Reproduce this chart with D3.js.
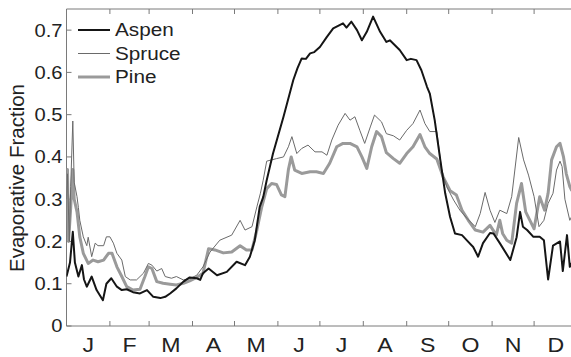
<!DOCTYPE html>
<html>
<head>
<meta charset="utf-8">
<script src="https://cdn.jsdelivr.net/npm/d3@7"></script>
<style>
  body { margin: 0; background: #fff; }
  svg { display: block; }
  text { font-family: 'Liberation Sans', Arial, sans-serif; fill: #222; }
</style>
</head>
<body>
<div id="chart"></div>
<script>
// month labels and boundaries (day of year)
let months = ['J','F','M','A','M','J','J','A','S','O','N','D'];
let monthStarts = [0,31,59,90,120,151,181,212,243,273,304,334,365];
let yTicks = [0,0.1,0.2,0.3,0.4,0.5,0.6,0.7];

// [day of year, evaporative fraction]
let aspen = [[0,0.117],[1,0.13],[2.5,0.15],[4.5,0.223],[6,0.15],[8.5,0.117],[11,0.144],[12.5,0.11],
  [14.5,0.093],[18,0.117],[21.5,0.085],[26,0.061],[28.5,0.10],[32,0.113],[36,0.093],[39.5,0.085],
  [43,0.087],[47.5,0.08],[52.5,0.077],[57.5,0.085],[62,0.069],[67,0.066],[70.5,0.069],[74,0.077],
  [78.5,0.089],[83.5,0.105],[88,0.115],[93,0.113],[95.5,0.109],[97.5,0.125],[101.5,0.136],[107.5,0.12],
  [114.5,0.128],[121.5,0.152],[127.5,0.144],[131,0.164],[134.5,0.203],[138,0.282],[140.5,0.305],
  [143,0.345],[147.5,0.408],[155,0.495],[162,0.582],[165,0.61],[168,0.633],[171,0.632],[174,0.645],
  [177,0.648],[181,0.66],[186,0.684],[190.5,0.704],[194,0.71],[197.5,0.716],[200,0.706],[203.5,0.72],
  [207.5,0.70],[211,0.676],[214.5,0.696],[219,0.732],[224,0.696],[228.5,0.672],[231,0.676],[233.5,0.668],
  [238,0.653],[243,0.629],[246,0.632],[250,0.629],[253.5,0.605],
  [257.5,0.566],[259.5,0.55],[263,0.487],[267,0.393],[270.5,0.314],[274,0.258],[277.5,0.219],
  [282.5,0.215],[287,0.199],[290.5,0.187],[294,0.164],[297.5,0.196],[302.5,0.22],[305,0.219],
  [309.5,0.196],[317,0.156],[321.5,0.21],[324,0.27],[326,0.235],[329,0.227],[333.5,0.211],[338,0.211],
  [341,0.203],[344,0.11],[347.5,0.19],[352.5,0.2],[354.5,0.13],[357.5,0.215],[359.5,0.14],[361,0.15]];

let spruce = [[0,0.30],[0.7,0.36],[2,0.2],[3,0.33],[4.5,0.485],[5.5,0.34],[7.5,0.306],[8.5,0.28],
  [9.5,0.25],[12,0.211],[14.5,0.19],[15.5,0.21],[18,0.164],[20.5,0.196],[22.5,0.19],[26.5,0.19],
  [28.5,0.211],[31,0.211],[33.5,0.196],[36,0.172],[39.5,0.156],[42,0.117],[45.5,0.109],[50,0.109],
  [55,0.125],[58.5,0.148],[61,0.144],[64.5,0.13],[68,0.136],[70.5,0.117],[75,0.113],[78.5,0.117],
  [83.5,0.109],[88,0.112],[93,0.12],[97.5,0.14],[102.5,0.175],[109.5,0.203],[118,0.215],[124,0.25],
  [127.5,0.227],[132.5,0.235],[136,0.282],[138.5,0.314],[140.5,0.345],[143,0.39],[150,0.396],
  [155,0.40],[158.5,0.424],[161,0.448],[164.5,0.408],[168,0.42],[172.5,0.428],[177.5,0.412],
  [182.5,0.412],[186,0.404],[189.5,0.44],[194,0.475],[199,0.503],[202.5,0.487],[206,0.495],
  [209.5,0.463],[213,0.432],[217,0.471],[220,0.499],[225,0.483],[228.5,0.455],[233.5,0.45],[238,0.44],
  [243,0.463],[247.5,0.479],[252.5,0.511],[256,0.479],[259.5,0.46],[264.5,0.46],[268,0.369],
  [271.5,0.33],[276.5,0.298],[281,0.274],[286,0.255],[292,0.235],[295.5,0.266],[299,0.316],
  [302.5,0.274],[306,0.245],[309.5,0.274],[314.5,0.266],[318,0.306],[323,0.446],[326.5,0.393],
  [330,0.357],[334,0.306],[337.5,0.235],[341,0.25],[344,0.29],[347.5,0.314],[350,0.369],[352.5,0.39],
  [354,0.377],[356,0.3],[359.5,0.25],[361,0.26]];

let pine = [[0,0.33],[0.7,0.37],[1.5,0.2],[3,0.28],[4.5,0.37],[5.5,0.30],[7.5,0.27],[9.5,0.211],
  [12,0.172],[15.5,0.148],[19,0.156],[22.5,0.152],[26.5,0.156],[30,0.172],[32.5,0.172],[36,0.14],
  [39.5,0.117],[43,0.093],[47.5,0.085],[52.5,0.087],[56,0.117],[58.5,0.14],[61,0.136],[64.5,0.105],
  [69,0.101],[74,0.099],[78.5,0.097],[83.5,0.101],[88,0.107],[93,0.115],[97.5,0.125],[101.5,0.183],
  [106,0.18],[112,0.173],[118,0.175],[124,0.19],[128.5,0.18],[132.5,0.18],[136,0.227],[139.5,0.282],
  [143,0.325],[146.5,0.337],[150,0.335],[153.5,0.31],[156,0.306],[158.5,0.37],[160.5,0.40],[163,0.369],
  [168,0.361],[174,0.365],[178.5,0.365],[183.5,0.361],[188,0.385],[193,0.424],[197.5,0.432],
  [202.5,0.432],[207.5,0.424],[211,0.40],[214.5,0.373],[218,0.424],[221.5,0.46],[225,0.448],
  [228.5,0.41],[233.5,0.396],[238,0.385],[243,0.408],[247.5,0.424],[252.5,0.453],[256,0.424],
  [259.5,0.408],[264.5,0.395],[269,0.353],[274,0.32],[278.5,0.31],[282.5,0.274],[287,0.25],[292,0.227],
  [297.5,0.222],[302.5,0.238],[307,0.215],[309.5,0.25],[311.5,0.219],[314.5,0.203],[318,0.196],
  [321.5,0.29],[325,0.337],[328,0.27],[331,0.25],[334,0.23],[338,0.306],[341.5,0.274],[344,0.314],
  [346.5,0.393],[350,0.424],[352.5,0.432],[355,0.40],[357,0.36],[359.5,0.33],[361,0.32]];

let seriesNames = ['Aspen','Spruce','Pine'];

let width = 571,
    height = 357,
    mLeft = 66.5,
    mTop = 9,
    mBottom = 326,
    mRight = 577.5,
    lineColor = ['#151515','#6a6a6a','#9a9a9a'],
    lineWidth = [2, 1, 3],
    svg = d3.select('#chart').append('svg')
        .attr('width', width)
        .attr('height', height);

let x = d3.scaleLinear().domain([0, 365]).range([mLeft, mRight]);
let y = d3.scaleLinear().domain([0, 0.75]).range([mBottom, mTop]);

// frame: left, bottom, top (right edge is cropped)
let frame = svg.append('g').style('stroke', '#7a7a7a').style('stroke-width', '1px');
frame.append('line').attr('x1', mLeft).attr('x2', mLeft).attr('y1', mTop).attr('y2', mBottom);
frame.append('line').attr('x1', mLeft).attr('x2', width).attr('y1', mBottom).attr('y2', mBottom);
frame.append('line').attr('x1', mLeft).attr('x2', width).attr('y1', mTop).attr('y2', mTop);

// month boundary ticks, bottom and top, pointing inward
let bounds = monthStarts.slice(1, 12);
frame.selectAll('line.tb')
    .data(bounds)
    .enter().append('line')
    .attr('class', 'tb')
    .attr('x1', (d) => x(d)).attr('x2', (d) => x(d))
    .attr('y1', mBottom).attr('y2', mBottom - 5);
frame.selectAll('line.tt')
    .data(bounds)
    .enter().append('line')
    .attr('class', 'tt')
    .attr('x1', (d) => x(d)).attr('x2', (d) => x(d))
    .attr('y1', mTop).attr('y2', mTop + 5);

// y ticks
frame.selectAll('line.ty')
    .data(yTicks)
    .enter().append('line')
    .attr('class', 'ty')
    .attr('x1', mLeft).attr('x2', mLeft + 5)
    .attr('y1', (d) => y(d)).attr('y2', (d) => y(d));

// labels in the source are a little wider than Arial, so stretch them slightly
svg.selectAll('text.yl')
    .data(yTicks)
    .enter().append('text')
    .attr('class', 'yl')
    .attr('transform', (d) => 'translate(' + (mLeft - 4) + ',' + y(d) + ') scale(1.12,1)')
    .attr('dy', '0.36em')
    .attr('text-anchor', 'end')
    .style('font-size', '18px')
    .text((d) => d === 0 ? '0' : d3.format('.1f')(d));

// month labels centred in each month
svg.selectAll('text.ml')
    .data(months)
    .enter().append('text')
    .attr('class', 'ml')
    .attr('transform', (d, i) => 'translate(' + x((monthStarts[i] + monthStarts[i + 1]) / 2) + ',352) scale(1.1,1)')
    .attr('text-anchor', 'middle')
    .style('font-size', '21px')
    .text((d) => d);

svg.append('text')
    .attr('transform', 'translate(24,178) rotate(-90)')
    .attr('text-anchor', 'middle')
    .style('font-size', '20.5px')
    .text('Evaporative Fraction');

// lines, drawn pine first so aspen sits on top
let line = d3.line().x((d) => x(d[0])).y((d) => y(d[1]));
let data = [aspen, spruce, pine];
svg.append('clipPath').attr('id', 'plot')
    .append('rect').attr('x', mLeft).attr('y', mTop).attr('width', width - mLeft).attr('height', mBottom - mTop);

svg.append('g').attr('clip-path', 'url(#plot)')
    .selectAll('path')
    .data([2, 1, 0])
    .enter().append('path')
    .attr('d', (k) => line(data[k]))
    .attr('fill', 'none')
    .attr('stroke', (k) => lineColor[k])
    .attr('stroke-width', (k) => lineWidth[k])
    .attr('stroke-linejoin', 'round');

// legend
let lg = svg.append('g').selectAll('g')
    .data(seriesNames)
    .enter().append('g')
    .attr('transform', (d, i) => 'translate(78,' + (30 + i * 23.5) + ')');
lg.append('line')
    .attr('x1', 0).attr('x2', 32)
    .attr('stroke', (d, i) => lineColor[i])
    .attr('stroke-width', (d, i) => lineWidth[i]);
lg.append('text')
    .attr('transform', 'translate(37,0) scale(1.12,1)')
    .attr('dy', '0.35em')
    .style('font-size', '18.5px')
    .text((d) => d);
</script>
</body>
</html>
